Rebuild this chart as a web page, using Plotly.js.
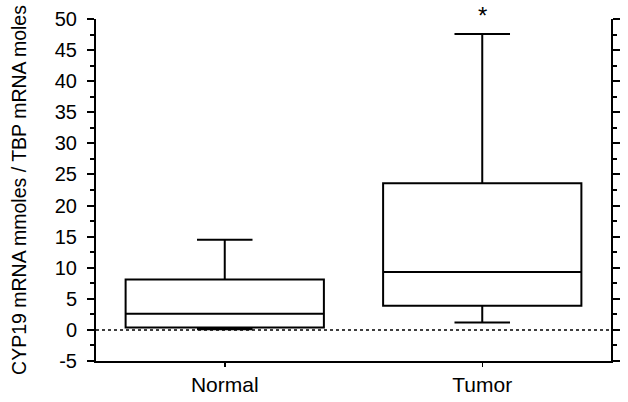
<!DOCTYPE html>
<html>
<head>
<meta charset="utf-8">
<script src="https://cdn.plot.ly/plotly-3.0.1.min.js"></script>
<style>
	html, body { margin: 0; padding: 0; background: #fff; }
	#chart { width: 628px; height: 402px; }
</style>
</head>
<body>
<div id="chart"></div>
<script>
"use strict";

//DATA
const groups = ['Normal', 'Tumor'];
const lowWhisker = [0.1, 1.2];
const q1 = [0.4, 3.9];
const medians = [2.6, 9.3];
const q3 = [8.1, 23.6];
const highWhisker = [14.5, 47.6];

const yTitle = 'CYP19 mRNA mmoles / TBP mRNA moles';
const yRange = [-5, 50];
const yTickVals = [-5, 0, 5, 10, 15, 20, 25, 30, 35, 40, 45, 50];
const yTickText = ['-5', '0', '5', '10', '15', '20', '25', '30', '35', '40', '45', '50'];
const starGroup = 'Tumor';

const FONT = '"Liberation Sans", Arial, Helvetica, sans-serif';
const W = 628, H = 402;
const M = {l: 96, r: 17, t: 19, b: 41};

//TRACES
const box = {
	type: 'box',
	x: groups,
	q1: q1,
	median: medians,
	q3: q3,
	lowerfence: lowWhisker,
	upperfence: highWhisker,
	boxpoints: false,
	width: 0.77,
	whiskerwidth: 0.28,
	fillcolor: 'rgba(0,0,0,0)',
	line: {color: '#000', width: 2},
	hoverinfo: 'skip',
	showlegend: false
};

//the star sits in the top margin, anchored to the top edge of the page
const starPaperY = 1 + M.t / (H - M.t - M.b);

//LAYOUT
const layout = {
	width: W, height: H,
	margin: M,
	paper_bgcolor: '#fff',
	plot_bgcolor: '#fff',
	font: {family: FONT, color: '#000', size: 20},
	showlegend: false,
	xaxis: {
		type: 'category',
		range: [-0.5, 1.5],
		showline: true, linecolor: '#000', linewidth: 2,
		ticks: 'outside', ticklen: 4, tickwidth: 1.5, tickcolor: '#000',
		showgrid: false, zeroline: false,
		tickfont: {size: 21}
	},
	yaxis: {
		range: yRange,
		tickvals: yTickVals, ticktext: yTickText,
		showline: true, linecolor: '#000', linewidth: 2,
		mirror: 'ticks',
		ticks: 'outside', ticklen: 7, tickwidth: 2, tickcolor: '#000',
		ticklabelstandoff: 6,
		minor: {dtick: 2.5, tick0: 0, ticks: 'outside', ticklen: 4, tickwidth: 2, tickcolor: '#000', showgrid: false},
		showgrid: false, zeroline: false,
		tickfont: {size: 20},
		title: {text: yTitle, font: {size: 19.5}, standoff: 23}
	},
	shapes: [{
		type: 'line', xref: 'paper', x0: 0, x1: 1,
		yref: 'y', y0: 0, y1: 0,
		line: {color: '#000', width: 1.5, dash: 'dot'}
	}],
	annotations: [{
		x: starGroup, y: starPaperY, xref: 'x', yref: 'paper',
		text: '*', showarrow: false,
		font: {size: 24},
		yanchor: 'top'
	}]
};

Plotly.newPlot('chart', [box], layout, {staticPlot: true, displayModeBar: false});
</script>
</body>
</html>
